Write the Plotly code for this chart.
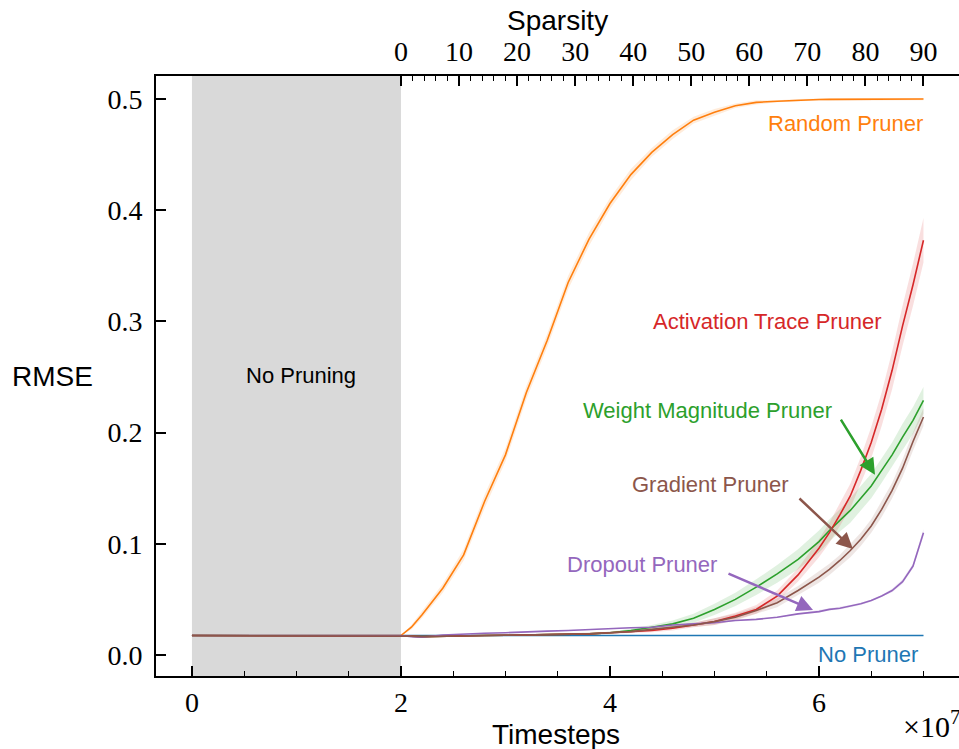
import plotly.graph_objects as go

# ---------------- data (timesteps in units of 1e7) ----------------
timesteps = [0.0, 1.0, 2.0, 2.1, 2.2, 2.4, 2.6, 2.8, 3.0, 3.2, 3.4, 3.6, 3.8, 4.0,
             4.2, 4.4, 4.6, 4.8, 5.0, 5.2, 5.4, 5.6, 5.8, 6.0,
             6.1, 6.2, 6.3, 6.4, 6.5, 6.6, 6.7, 6.8, 6.9, 7.0]

no_pruner = [0.0175] * 34
no_pruner_std = [0.0005] * 34

random_pruner = [0.0175, 0.0175, 0.0175, 0.025, 0.036,
                 0.060, 0.090, 0.138, 0.180, 0.236, 0.283, 0.335, 0.374, 0.406,
                 0.432, 0.452, 0.468, 0.481, 0.488, 0.494, 0.497, 0.498, 0.499, 0.4995,
                 0.4997, 0.4998, 0.4999, 0.500, 0.500, 0.500, 0.500, 0.500, 0.500, 0.500]
random_pruner_std = [0.0, 0.0, 0.0, 0.002, 0.003,
                     0.004, 0.005, 0.006, 0.006, 0.006, 0.006, 0.006, 0.006, 0.005,
                     0.005, 0.004, 0.004, 0.003, 0.003, 0.002, 0.002, 0.001, 0.001, 0.001,
                     0.001, 0.001, 0.001, 0.001, 0.001, 0.001, 0.001, 0.001, 0.001, 0.001]

weight_pruner = [0.0175, 0.0175, 0.0175, 0.017, 0.0165,
                 0.017, 0.0172, 0.0175, 0.0177, 0.018, 0.0183, 0.0187, 0.019, 0.020,
                 0.022, 0.025, 0.028, 0.033, 0.041, 0.050, 0.061, 0.073, 0.086, 0.102,
                 0.112, 0.121, 0.130, 0.141, 0.152, 0.166, 0.180, 0.196, 0.211, 0.229]
weight_pruner_std = [0.0, 0.0, 0.0, 0.0005, 0.0005,
                     0.0005, 0.0005, 0.0005, 0.0005, 0.0005, 0.0006, 0.0008, 0.001, 0.001,
                     0.0015, 0.002, 0.003, 0.004, 0.005, 0.006, 0.007, 0.008, 0.009, 0.010,
                     0.010, 0.010, 0.011, 0.011, 0.011, 0.011, 0.011, 0.012, 0.012, 0.012]

activation_pruner = [0.0175, 0.0175, 0.0175, 0.017, 0.0165,
                     0.017, 0.0172, 0.0175, 0.0177, 0.018, 0.0182, 0.0185, 0.019, 0.020,
                     0.021, 0.022, 0.024, 0.027, 0.030, 0.035, 0.041, 0.053, 0.072, 0.096,
                     0.110, 0.126, 0.143, 0.166, 0.191, 0.221, 0.256, 0.296, 0.333, 0.373]
activation_pruner_std = [0.0, 0.0, 0.0, 0.0005, 0.0005,
                         0.0005, 0.0005, 0.0005, 0.0005, 0.0005, 0.0006, 0.0008, 0.001, 0.001,
                         0.001, 0.0015, 0.002, 0.002, 0.003, 0.003, 0.004, 0.005, 0.006, 0.008,
                         0.009, 0.010, 0.011, 0.012, 0.014, 0.015, 0.017, 0.018, 0.019, 0.020]

dropout_pruner = [0.0175, 0.0175, 0.0175, 0.0165, 0.016,
                  0.018, 0.019, 0.0195, 0.020, 0.021, 0.0215, 0.022, 0.023, 0.024,
                  0.0245, 0.025, 0.027, 0.028, 0.029, 0.031, 0.032, 0.034, 0.037, 0.039,
                  0.041, 0.042, 0.044, 0.046, 0.049, 0.053, 0.058, 0.066, 0.080, 0.110]
dropout_pruner_std = [0.0005] * 23 + [0.001] * 7 + [0.0015, 0.002, 0.002, 0.003]

gradient_pruner = [0.0175, 0.0175, 0.0175, 0.017, 0.0165,
                   0.017, 0.0172, 0.0175, 0.0177, 0.018, 0.0182, 0.0185, 0.019, 0.020,
                   0.021, 0.023, 0.025, 0.027, 0.030, 0.034, 0.040, 0.047, 0.058, 0.070,
                   0.077, 0.085, 0.094, 0.104, 0.116, 0.131, 0.148, 0.168, 0.192, 0.214]
gradient_pruner_std = [0.0, 0.0, 0.0, 0.0005, 0.0005,
                       0.0005, 0.0005, 0.0005, 0.0005, 0.0005, 0.0005, 0.0005, 0.0008, 0.001,
                       0.001, 0.0015, 0.002, 0.002, 0.003, 0.003, 0.003, 0.004, 0.004, 0.005,
                       0.005, 0.005, 0.006, 0.006, 0.006, 0.007, 0.007, 0.008, 0.008, 0.008]

x_ticks = [0, 2, 4, 6]
x_ticklabels = ["0", "2", "4", "6"]
y_ticks = [0.0, 0.1, 0.2, 0.3, 0.4, 0.5]
y_ticklabels = ["0.0", "0.1", "0.2", "0.3", "0.4", "0.5"]
sparsity_ticks = [0, 10, 20, 30, 40, 50, 60, 70, 80, 90]
sparsity_minor = [v for v in range(2, 90, 2) if v % 10 != 0]
x_minor = [v * 0.5 for v in range(1, 15) if v % 4 != 0]

prune_start, prune_end = 2.0, 7.0      # sparsity 0 -> 90 maps onto this timestep span
sparsity_max = 90

series = [
    ("No Pruner", no_pruner, no_pruner_std, "#1f77b4", "31,119,180"),
    ("Random Pruner", random_pruner, random_pruner_std, "#ff7f0e", "255,127,14"),
    ("Weight Magnitude Pruner", weight_pruner, weight_pruner_std, "#2ca02c", "44,160,44"),
    ("Activation Trace Pruner", activation_pruner, activation_pruner_std, "#d62728", "214,39,40"),
    ("Dropout Pruner", dropout_pruner, dropout_pruner_std, "#9467bd", "148,103,189"),
    ("Gradient Pruner", gradient_pruner, gradient_pruner_std, "#8c564b", "140,86,75"),
]

# ---------------- figure ----------------
W, H = 959, 749
ML, MR, MT, MB = 156, 0, 76, 73
x_range = [-0.344, 7.34]
y_range = [-0.0189, 0.5207]
scale = sparsity_max / (prune_end - prune_start)
x2_range = [(x_range[0] - prune_start) * scale, (x_range[1] - prune_start) * scale]

fig = go.Figure()

for name, vals, std, col, rgb in series:
    upper = [v + s for v, s in zip(vals, std)]
    lower = [v - s for v, s in zip(vals, std)]
    fig.add_trace(go.Scatter(
        x=timesteps + timesteps[::-1], y=upper + lower[::-1],
        fill="toself", fillcolor=f"rgba({rgb},0.15)", line=dict(width=0),
        mode="lines", hoverinfo="skip", showlegend=False))

for name, vals, std, col, rgb in series:
    fig.add_trace(go.Scatter(x=timesteps, y=vals, mode="lines", name=name,
                             line=dict(color=col, width=1.6), showlegend=False))

# invisible trace to instantiate top (sparsity) axis
fig.add_trace(go.Scatter(x=sparsity_ticks, y=[no_pruner[0]] * len(sparsity_ticks),
                         xaxis="x2", yaxis="y", mode="markers",
                         marker=dict(opacity=0), hoverinfo="skip", showlegend=False))

# "No pruning" shaded phase
fig.add_shape(type="rect", xref="x", yref="paper", x0=0, x1=prune_start, y0=0, y1=1,
              fillcolor="#d9d9d9", line=dict(width=0), layer="below")

serif = "Liberation Serif, Times New Roman, serif"
sans = "Liberation Sans, Arial, sans-serif"

axis_common = dict(showline=True, linewidth=2, linecolor="black", showgrid=False,
                   zeroline=False, ticks="inside", ticklen=10, tickwidth=1.5,
                   tickcolor="black", tickfont=dict(family=serif, size=28, color="black"))

fig.update_layout(
    width=W, height=H, margin=dict(l=ML, r=MR, t=MT, b=MB),
    plot_bgcolor="white", paper_bgcolor="white", showlegend=False,
    xaxis=dict(range=x_range, tickmode="array", tickvals=x_ticks, ticktext=x_ticklabels,
               minor=dict(tickmode="array", tickvals=x_minor, ticks="inside", ticklen=5,
                          tickwidth=1.2, tickcolor="black"),
               ticklabelstandoff=0, **axis_common),
    yaxis=dict(range=y_range, tickmode="array", tickvals=y_ticks, ticktext=y_ticklabels,
               ticklabelstandoff=6, **axis_common),
    xaxis2=dict(range=x2_range, overlaying="x", side="top", anchor="y",
                tickmode="array", tickvals=sparsity_ticks,
                ticktext=[str(v) for v in sparsity_ticks],
                minor=dict(tickmode="array", tickvals=sparsity_minor, ticks="inside",
                           ticklen=5, tickwidth=1.2, tickcolor="black"),
                ticklabelstandoff=2, **axis_common),
)

def px_x(p):
    return (p - ML) / (W - ML - MR)

def px_y(p):
    return (H - MB - p) / (H - MT - MB)

def paper_text(text, px, py, font, xanchor="center"):
    return dict(text=text, x=px_x(px), y=px_y(py), xref="paper", yref="paper",
                xanchor=xanchor, yanchor="middle", showarrow=False, font=font)

ann = []
# axis titles
ann.append(paper_text("Sparsity", 557, 20, dict(family=sans, size=28, color="black")))
ann.append(paper_text("Timesteps", 556, 734, dict(family=sans, size=28, color="black")))
ann.append(paper_text("RMSE", 53, 376, dict(family=sans, size=28, color="black")))
ann.append(paper_text("×10<sup>7</sup>", 962, 724, dict(family=serif, size=30, color="black"),
                      xanchor="right"))

# in-plot labels
lab_font = lambda c: dict(family=sans, size=22, color=c)
ann.append(dict(text="No Pruning", x=1.043, y=0.251, showarrow=False, font=lab_font("black")))
ann.append(dict(text="Random Pruner", x=7.01, y=0.478, xanchor="right", showarrow=False,
                font=lab_font("#ff7f0e")))
ann.append(dict(text="Activation Trace Pruner", x=5.51, y=0.2995, showarrow=False,
                font=lab_font("#d62728")))
ann.append(dict(text="Weight Magnitude Pruner", x=4.93, y=0.220, showarrow=False,
                font=lab_font("#2ca02c")))
ann.append(dict(text="Gradient Pruner", x=4.96, y=0.153, showarrow=False,
                font=lab_font("#8c564b")))
ann.append(dict(text="Dropout Pruner", x=4.31, y=0.081, showarrow=False,
                font=lab_font("#9467bd")))
ann.append(dict(text="No Pruner", x=6.47, y=0.0, showarrow=False,
                font=lab_font("#1f77b4")))

# arrows
for (tx, ty, hx, hy, c) in [(6.201, 0.213, 6.536, 0.162, "#2ca02c"),
                            (5.799, 0.142, 6.325, 0.0953, "#8c564b"),
                            (5.120, 0.0737, 5.943, 0.0405, "#9467bd")]:
    ann.append(dict(x=hx, y=hy, ax=tx, ay=ty, xref="x", yref="y", axref="x", ayref="y",
                    text="", showarrow=True, arrowhead=2, arrowsize=1.3, arrowwidth=2.5,
                    arrowcolor=c))

fig.update_layout(annotations=ann)
fig.write_html("out.html")
